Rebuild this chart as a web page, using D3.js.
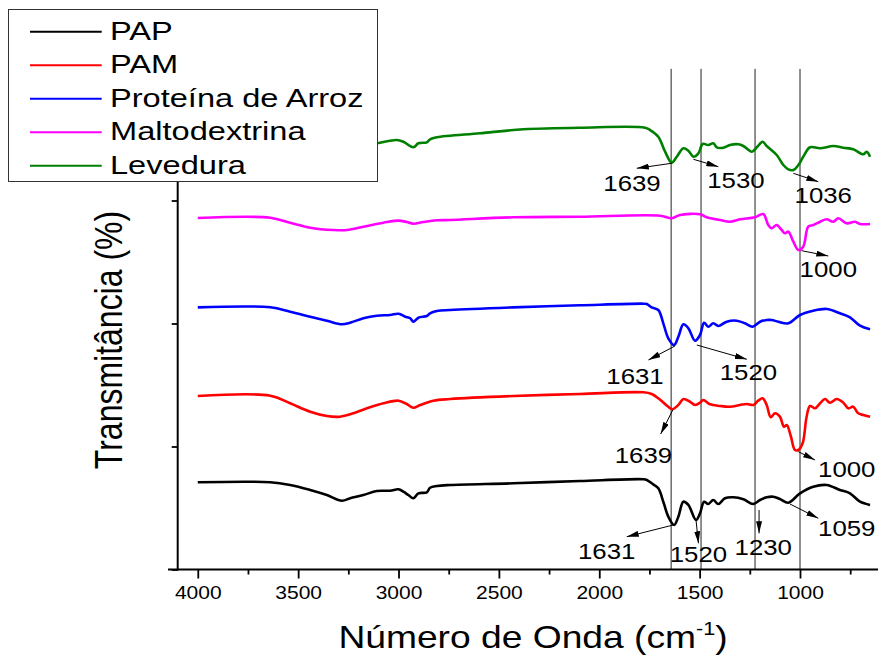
<!DOCTYPE html>
<html><head><meta charset="utf-8">
<script src="https://cdn.jsdelivr.net/npm/d3@7"></script>
<style>html,body{margin:0;padding:0;background:#fff;} svg{display:block;}</style>
</head><body>
<svg id="chart" width="878" height="657"></svg>
<script>
// FTIR spectra, stacked: wavenumber (cm-1) vs transmittance (offset units)
const seriesNames  = ["PAP", "PAM", "Proteína de Arroz", "Maltodextrina", "Levedura"];
const seriesColors = ["#000000", "#ff0000", "#0000ff", "#ff00ff", "#008000"];

const pap = [[4000,14.18],[3639,14.18],[3540,13.74],[3440,12.93],[3357,12.11],[3282,11.19],[3241,11.58],[3175,12.11],[3108,12.76],[3042,12.81],[3000,13.04],[2976,12.65],[2951,12.11],[2926,11.58],[2901,12.39],[2859,12.55],[2843,13.30],[2809,13.58],[2743,13.74],[2428,14.02],[2096,14.39],[1780,14.67],[1763,14.55],[1739,14.02],[1706,13.20],[1681,11.02],[1656,8.59],[1627,7.24],[1606,8.59],[1581,11.02],[1556,10.49],[1518,8.05],[1498,9.14],[1478,11.02],[1457,10.65],[1432,11.30],[1407,10.65],[1374,11.58],[1332,11.74],[1282,11.41],[1233,10.65],[1199,11.30],[1166,11.74],[1133,11.84],[1100,11.46],[1058,10.86],[1000,12.39],[934,13.46],[867,13.74],[801,12.93],[751,12.39],[701,11.02],[651,10.49]];

const pam = [[4000,28.21],[3639,28.26],[3540,27.02],[3440,25.66],[3357,24.96],[3291,24.85],[3225,25.40],[3142,26.37],[3075,27.02],[3000,27.45],[2959,26.91],[2926,26.31],[2892,26.75],[2826,27.45],[2743,27.72],[2428,28.21],[2096,28.54],[1780,28.81],[1739,28.54],[1706,27.84],[1661,26.59],[1636,26.05],[1606,26.75],[1581,27.72],[1548,27.28],[1523,26.75],[1498,27.12],[1482,27.56],[1448,26.86],[1398,26.59],[1349,26.47],[1299,26.75],[1265,26.91],[1233,26.75],[1208,27.45],[1186,27.84],[1166,26.75],[1146,24.75],[1125,25.40],[1100,24.85],[1080,23.22],[1066,23.50],[1046,21.71],[1025,19.43],[1008,19.43],[987,20.52],[967,24.85],[950,26.59],[925,26.21],[900,27.02],[875,27.72],[851,27.12],[817,27.72],[784,27.12],[759,26.21],[735,26.47],[710,25.40],[685,25.12],[651,24.85]];

const proteina = [[4000,42.63],[3639,42.63],[3540,41.92],[3440,41.11],[3357,40.46],[3282,39.87],[3241,40.13],[3175,40.85],[3108,41.27],[3042,41.38],[3000,41.59],[2967,41.11],[2942,40.85],[2926,40.29],[2901,40.94],[2859,41.22],[2843,41.66],[2809,42.03],[2743,42.20],[2428,42.63],[2096,42.96],[1780,43.22],[1763,43.17],[1739,42.63],[1706,42.20],[1681,40.03],[1656,37.59],[1627,36.50],[1606,37.85],[1581,39.87],[1556,39.22],[1523,37.20],[1498,38.13],[1478,40.13],[1457,39.48],[1432,40.03],[1407,39.59],[1365,40.29],[1315,40.46],[1274,40.03],[1236,39.48],[1199,40.29],[1166,40.57],[1141,40.57],[1108,40.29],[1058,40.03],[1000,41.38],[934,42.08],[867,42.36],[801,41.66],[751,41.01],[701,39.64],[651,39.06]];

const maltodextrina = [[4000,57.15],[3639,57.20],[3540,56.39],[3440,55.58],[3324,55.20],[3257,55.20],[3175,55.74],[3075,56.39],[3000,56.72],[2959,56.50],[2926,56.23],[2876,56.50],[2809,56.78],[2743,56.83],[2428,57.27],[2096,57.37],[1697,57.53],[1639,57.11],[1598,57.64],[1498,57.76],[1465,57.27],[1398,56.83],[1349,56.55],[1299,56.94],[1224,57.27],[1183,57.80],[1158,56.02],[1141,55.48],[1116,56.02],[1091,55.20],[1075,54.67],[1058,54.93],[1033,53.30],[1008,51.95],[984,52.49],[959,55.74],[934,56.02],[900,56.55],[867,56.94],[834,56.55],[809,57.11],[767,56.29],[726,56.55],[701,56.18],[651,56.18]];

const levedura = [[4000,70.16],[3640,70.16],[3450,69.35],[3290,68.70],[3200,68.86],[3107,69.30],[3008,69.84],[2976,69.56],[2926,68.65],[2901,69.30],[2859,69.46],[2843,69.95],[2809,70.28],[2594,70.93],[2378,71.58],[2096,71.84],[1772,71.84],[1747,71.46],[1706,70.37],[1672,67.93],[1639,66.15],[1614,67.12],[1581,68.49],[1556,68.10],[1531,67.12],[1506,67.67],[1485,69.19],[1457,69.02],[1432,69.30],[1415,68.65],[1382,68.59],[1349,69.02],[1307,69.14],[1282,68.86],[1240,67.93],[1215,68.65],[1186,69.56],[1166,68.86],[1116,67.40],[1083,65.77],[1058,65.07],[1033,64.96],[1008,65.77],[984,67.12],[950,68.65],[900,68.49],[834,68.86],[784,68.59],[735,68.33],[685,67.51],[668,67.93],[651,67.12]];

const seriesData = [pap, pam, proteina, maltodextrina, levedura];

// x-axis ticks
const majorTicks = [4000, 3500, 3000, 2500, 2000, 1500, 1000];
const minorTicks = [3750, 3250, 2750, 2250, 1750, 1250, 750];
const yTicks = [0, 20, 40, 60, 80];

// reference band positions (cm-1)
const bandLines = [1642, 1493, 1224, 1000];
const bandTop = 81.4;

// peak annotations: label, arrow start [wn, T], arrow tip [wn, T], label anchor [wn, T]
const annLabels = ["1639", "1530", "1036", "1000", "1631", "1520", "1639", "1000", "1631", "1520", "1230", "1059"];
const annFrom = [[1639,66.05],[1531,66.70],[1033,64.42],[992,51.84],[1623,36.34],[1514,36.50],[1634,25.93],[1008,19.15],[1631,7.24],[1518,8.05],[1204,9.67],[1050,10.65]];
const annTo   = [[1813,65.24],[1407,65.50],[909,63.06],[859,50.98],[1755,34.07],[1265,34.18],[1694,22.03],[925,17.80],[1863,5.33],[1506,4.26],[1204,5.89],[909,8.33]];
const annText = [[1837,61.54],[1319,61.98],[884,59.54],[859,47.51],[1822,30.11],[1257,30.81],[1780,17.37],[767,14.99],[1963,1.66],[1506,1.27],[1183,2.36],[767,5.45]];

const FONT = "'Liberation Sans', Arial, sans-serif";
const SX = 1.2; // horizontal glyph stretch

const svg = d3.select("#chart");
const x = d3.scaleLinear().domain([4100, 600]).range([177.7, 880.3]);
const y = d3.scaleLinear().domain([0, 80]).range([569.5, 77.5]);

// arrowhead marker
svg.append("defs").append("marker")
  .attr("id", "arrow").attr("markerUnits", "userSpaceOnUse")
  .attr("markerWidth", 12).attr("markerHeight", 6)
  .attr("refX", 12).attr("refY", 3).attr("orient", "auto")
  .append("path").attr("d", "M0,0 L12,3 L0,6 Z").attr("fill", "#000");

// band lines
svg.append("g").selectAll("line").data(bandLines).join("line")
  .attr("x1", d => x(d)).attr("x2", d => x(d))
  .attr("y1", y(bandTop)).attr("y2", y(0))
  .attr("stroke", "#222").attr("stroke-width", 1);

// spectra
const line = d3.line().x(d => x(d[0])).y(d => y(d[1])).curve(d3.curveCatmullRom.alpha(0.5));
svg.append("g").selectAll("path").data(seriesData).join("path")
  .attr("d", line).attr("fill", "none")
  .attr("stroke", (d, i) => seriesColors[i])
  .attr("stroke-width", 2.6).attr("stroke-linejoin", "round");

// axes
const gx = svg.append("g").attr("transform", `translate(0,${y(0)})`);
gx.call(d3.axisBottom(x).tickValues(majorTicks).tickSize(9).tickPadding(8.5).tickFormat(d3.format("d")));
gx.call(g => g.select(".domain").remove());
gx.selectAll(".tick line").attr("stroke", "#000").attr("stroke-width", 1.8);
gx.selectAll(".tick text").attr("font-family", FONT).attr("font-size", 17.5).attr("fill", "#000")
  .attr("transform", `scale(${SX},1)`);
const gxm = svg.append("g").attr("transform", `translate(0,${y(0)})`);
gxm.call(d3.axisBottom(x).tickValues(minorTicks).tickSize(5).tickFormat(""));
gxm.call(g => g.select(".domain").remove());
gxm.selectAll(".tick line").attr("stroke", "#000").attr("stroke-width", 1.8);

const gy = svg.append("g").attr("transform", `translate(${x(4100)},0)`);
gy.call(d3.axisLeft(y).tickValues(yTicks).tickSize(6).tickFormat(""));
gy.call(g => g.select(".domain").remove());
gy.selectAll(".tick line").attr("stroke", "#000").attr("stroke-width", 1.8);

svg.append("line").attr("x1", 168).attr("x2", 878).attr("y1", y(0)).attr("y2", y(0))
  .attr("stroke", "#000").attr("stroke-width", 2);
svg.append("line").attr("x1", x(4100)).attr("x2", x(4100)).attr("y1", y(0) + 1).attr("y2", y(bandTop))
  .attr("stroke", "#000").attr("stroke-width", 2);

// peak annotations
const ann = svg.append("g");
annLabels.forEach((lab, i) => {
  ann.append("line")
    .attr("x1", x(annFrom[i][0])).attr("y1", y(annFrom[i][1]))
    .attr("x2", x(annTo[i][0])).attr("y2", y(annTo[i][1]))
    .attr("stroke", "#000").attr("stroke-width", 1)
    .attr("marker-end", "url(#arrow)");
  ann.append("text")
    .attr("transform", `translate(${x(annText[i][0])},${y(annText[i][1])}) scale(${SX},1)`)
    .attr("text-anchor", "middle").attr("font-family", FONT).attr("font-size", 21.5)
    .attr("fill", "#000").text(lab);
});

// axis titles
const xt = svg.append("text")
  .attr("transform", `translate(533,648) scale(${SX},1)`)
  .attr("text-anchor", "middle").attr("font-family", FONT).attr("font-size", 31).attr("fill", "#000");
xt.append("tspan").text("Número de Onda (cm");
xt.append("tspan").attr("font-size", 18).attr("dy", -13).text("-1");
xt.append("tspan").attr("dy", 13).text(")");

svg.append("text")
  .attr("transform", `translate(121.5,340) scale(${SX},1) rotate(-90)`)
  .attr("text-anchor", "middle").attr("font-family", FONT).attr("font-size", 32)
  .attr("fill", "#000").text("Transmitância (%)");

// legend
const leg = svg.append("g");
leg.append("rect").attr("x", 8.5).attr("y", 9.5).attr("width", 369).attr("height", 172)
  .attr("fill", "#fff").attr("stroke", "#333").attr("stroke-width", 1);
const legRows = leg.selectAll("g.row").data(seriesNames).join("g").attr("class", "row")
  .attr("transform", (d, i) => `translate(0,${31.7 + i * 33.5})`);
legRows.append("line").attr("x1", 30).attr("x2", 101.7).attr("y1", 0).attr("y2", 0)
  .attr("stroke", (d, i) => seriesColors[i]).attr("stroke-width", 2);
legRows.append("text")
  .attr("transform", `translate(110,8) scale(1.23,1)`)
  .attr("font-family", FONT).attr("font-size", 26.5).attr("fill", "#000")
  .text(d => d);
</script>
</body></html>
